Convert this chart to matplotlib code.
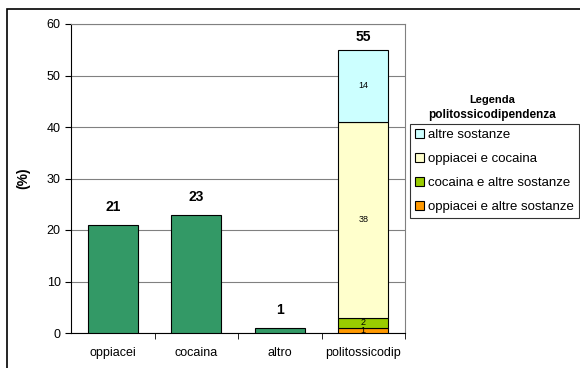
import matplotlib
matplotlib.use("Agg")
import matplotlib.pyplot as plt
from matplotlib.patches import Rectangle
from matplotlib.transforms import Bbox

plt.rcParams["font.family"] = ["Liberation Sans", "DejaVu Sans"]

# -----------------------------
# DATA
# -----------------------------
categories = ["oppiacei", "cocaina", "altro", "politossicodip"]
single_values = [21, 23, 1]
poly_labels = ["oppiacei e altre sostanze", "cocaina e altre sostanze",
               "oppiacei e cocaina", "altre sostanze"]
poly_values = [1, 2, 38, 14]
poly_colors = ["#FF9900", "#99CC00", "#FFFFCC", "#CCFFFF"]
bar_color = "#339966"

# the figure is drawn taller and the top strip is cropped away on save,
# so the title is cut off like in the original
W, H = 580, 368
EXTRA = 30
H2 = H + EXTRA
fig = plt.figure(figsize=(W / 100, H2 / 100), dpi=100)


def fy(py):
    # pixel row in the final picture -> figure fraction
    return 1 - (py + EXTRA) / H2


# outer chart border (only top/left visible in the reference)
fig.patches.append(Rectangle((7 / W, -0.1), 1.2, fy(9) + 0.1, transform=fig.transFigure,
                             fill=False, edgecolor="black", linewidth=1.2))

fig.text(0.5, fy(-4.5), "Soggetti per tipologia di sostanza d'uso primaria",
         ha="center", va="baseline", fontsize=14, fontweight="bold")

ax = fig.add_axes([71 / W, fy(333), (405 - 71) / W, (333 - 24) / H2])

x = list(range(len(categories)))
width = 0.6
ax.bar(x[:3], single_values, width=width, color=bar_color, edgecolor="black", linewidth=0.8, zorder=3)

bottom = 0
for val, col, lab in zip(poly_values, poly_colors, poly_labels):
    ax.bar(x[3], val, width=width, bottom=bottom, color=col, edgecolor="black",
           linewidth=0.8, label=lab, zorder=3)
    ax.text(x[3], bottom + val / 2, str(val), ha="center", va="center", fontsize=6.5, zorder=4)
    bottom += val

totals = single_values + [sum(poly_values)]
for xi, t in zip(x, totals):
    ax.text(xi, min(t + 3.5, 57.5), str(t), ha="center", va="center",
            fontsize=10, fontweight="bold")

ax.set_xlim(-0.5, 3.5)
ax.set_ylim(0, 60)
ax.set_yticks(range(0, 61, 10))
ax.yaxis.grid(True, color="#808080", linewidth=0.8, zorder=0)
ax.set_xticks(x)
ax.set_xticklabels(categories, fontsize=9)
ax.tick_params(axis="x", length=0, pad=10)
ax.set_xticks([0.5, 1.5, 2.5, 3.5], minor=True)
ax.tick_params(axis="x", which="minor", length=4, direction="out")
ax.tick_params(axis="y", labelsize=9, length=4)
for s in ["top", "right"]:
    ax.spines[s].set_color("#808080")
ax.set_ylabel("(%)", fontsize=10, fontweight="bold", labelpad=12)

handles, labels = ax.get_legend_handles_labels()
leg = fig.legend(handles[::-1], labels[::-1], loc="upper left",
                 bbox_to_anchor=(410 / W, fy(124)), fontsize=9.5,
                 frameon=True, fancybox=False, edgecolor="black",
                 handlelength=0.7, handleheight=0.7, handletextpad=0.35,
                 labelspacing=0.9, borderpad=0.35, borderaxespad=0)
leg.get_frame().set_linewidth(0.8)
fig.text(492 / W, fy(100), "Legenda", ha="center", va="center",
         fontsize=8, fontweight="bold")
fig.text(492 / W, fy(115), "politossicodipendenza", ha="center", va="center",
         fontsize=8.5, fontweight="bold")

fig.savefig("out.png", dpi=100, bbox_inches=Bbox.from_bounds(0, 0, W / 100, H / 100),
            pad_inches=0)
